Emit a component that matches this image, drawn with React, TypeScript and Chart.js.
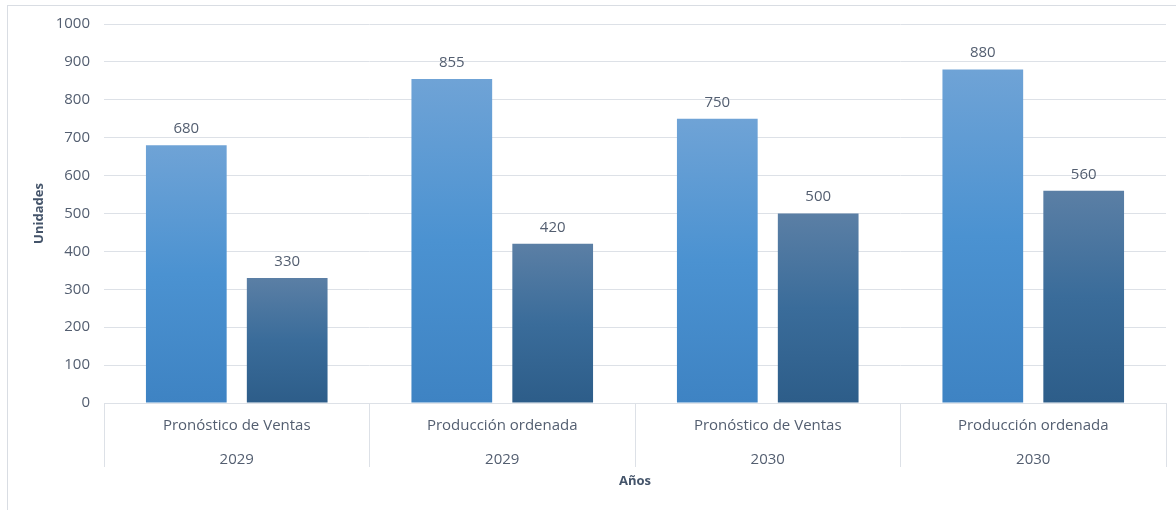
import React, { useEffect, useRef } from "react";
import { Chart, registerables } from "chart.js";

Chart.register(...registerables);

const categories: string[][] = [
  ["Pronóstico de Ventas", "2029"],
  ["Producción ordenada", "2029"],
  ["Pronóstico de Ventas", "2030"],
  ["Producción ordenada", "2030"],
];
const seriesA: number[] = [680, 855, 750, 880];
const seriesB: number[] = [330, 420, 500, 560];
const yTicks: number[] = [0, 100, 200, 300, 400, 500, 600, 700, 800, 900, 1000];

const FONT = "'Open Sans', sans-serif";
const TEXT = "#535e70";
const TITLE = "#44546a";
const GRID = "#dde1e7";

function gradientFill(top: string, bottom: string, fallback: string) {
  return (ctx: any) => {
    const chart = ctx.chart;
    if (!chart.chartArea || ctx.type !== "data") return fallback;
    const y = chart.scales.y;
    const t = y.getPixelForValue(ctx.raw);
    const b = y.getPixelForValue(0);
    if (!isFinite(t) || !isFinite(b) || t === b) return fallback;
    const g = chart.ctx.createLinearGradient(0, t, 0, b);
    g.addColorStop(0, top);
    g.addColorStop(0.5, fallback);
    g.addColorStop(1, bottom);
    return g;
  };
}

const valueLabels = {
  id: "valueLabels",
  afterDatasetsDraw(chart: any) {
    const c = chart.ctx;
    c.save();
    c.font = `15px ${FONT}`;
    c.fillStyle = TEXT;
    c.textAlign = "center";
    c.textBaseline = "bottom";
    chart.data.datasets.forEach((ds: any, i: number) => {
      const meta = chart.getDatasetMeta(i);
      meta.data.forEach((el: any, j: number) => {
        c.fillText(String(ds.data[j]), el.x, el.y - 9);
      });
    });
    c.restore();
  },
};

export default function App() {
  const ref = useRef<HTMLCanvasElement | null>(null);
  useEffect(() => {
    if (!ref.current) return;
    const chart = new Chart(ref.current, {
      type: "bar",
      data: {
        labels: categories,
        datasets: [
          {
            label: "A",
            data: seriesA,
            backgroundColor: gradientFill("#6fa3d6", "#3e83c3", "#4b92d1"),
            barPercentage: 0.8,
            categoryPercentage: 0.76,
          },
          {
            label: "B",
            data: seriesB,
            backgroundColor: gradientFill("#5b7fa5", "#2d5d89", "#3a6c9a"),
            barPercentage: 0.8,
            categoryPercentage: 0.76,
          },
        ],
      },
      options: {
        animation: false,
        responsive: false,
        layout: { padding: { top: 24, right: 10, left: 31, bottom: 21 } },
        plugins: {
          legend: { display: false },
          tooltip: { enabled: false },
        },
        scales: {
          x: {
            afterFit: (scale: any) => {
              scale.height = 86;
            },
            grid: {
              display: true,
              drawOnChartArea: false,
              drawTicks: true,
              tickLength: 64,
              offset: true,
              color: GRID,
            },
            border: { display: false },
            ticks: {
              padding: -58,
              maxRotation: 0,
              autoSkip: false,
              color: TEXT,
              font: { family: FONT, size: 15, lineHeight: 34 / 15 },
            },
            title: {
              display: true,
              text: "Años",
              color: TITLE,
              font: { family: FONT, size: 13, weight: "bold" },
              padding: { top: 0, bottom: 0 },
            },
          },
          y: {
            min: 0,
            max: 1000,
            afterBuildTicks: (scale: any) => {
              scale.ticks = yTicks.map((v) => ({ value: v }));
            },
            afterFit: (scale: any) => {
              scale.width = 73;
            },
            grid: { color: GRID, drawTicks: false, lineWidth: 1 },
            border: { display: false },
            ticks: {
              padding: 14,
              color: TEXT,
              font: { family: FONT, size: 15 },
              callback: (v: any) => String(v),
            },
            title: {
              display: true,
              text: "Unidades",
              color: TITLE,
              font: { family: FONT, size: 13, weight: "bold" },
              padding: 0,
            },
          },
        },
      },
      plugins: [valueLabels],
    });
    return () => chart.destroy();
  }, []);

  return (
    <div style={{ position: "fixed", left: 0, top: 0, width: 1176, height: 510, overflow: "hidden", background: "#fff" }}>
      <div
        style={{
          position: "absolute",
          left: 7,
          top: 5,
          width: 1300,
          height: 700,
          border: "1px solid #d9dde3",
          boxSizing: "border-box",
        }}
      />
      <canvas
        ref={ref}
        width={1176}
        height={510}
        style={{ position: "absolute", left: 0, top: 0, width: 1176, height: 510 }}
      />
    </div>
  );
}
